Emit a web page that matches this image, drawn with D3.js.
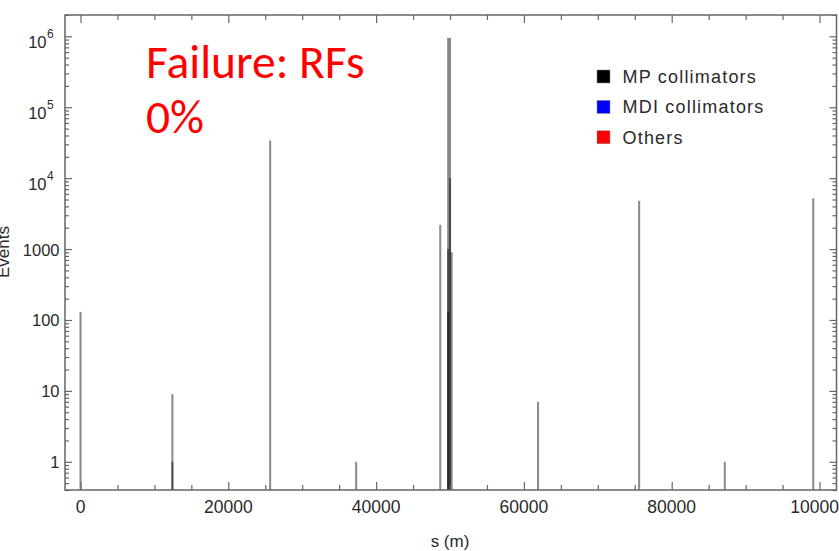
<!DOCTYPE html>
<html>
<head>
<meta charset="utf-8">
<script src="https://cdn.jsdelivr.net/npm/d3@7"></script>
<style>
  body { margin: 0; background: #fff; }
  svg { display: block; }
</style>
</head>
<body>
<script>
// Loss location along the ring (m) and number of events in that bin
const lossPosition = [0, 12430, 12430, 25660, 37300, 48680, 49750, 50000, 49750, 50000, 50220, 49750, 61910, 75590, 87180, 99150];
const lossEvents   = [130, 9, 1, 34000, 1, 2200, 950000, 950000, 1000, 10000, 900, 130, 7, 4800, 1, 5200];
const binWidth = 280;

const xTickValues = [0, 20000, 40000, 60000, 80000, 100000];
const xMinorValues = d3.range(0, 100001, 5000).filter(v => v % 20000 !== 0);
const yPlainLabels = [1, 10, 100, 1000];
const yPowerExponents = [4, 5, 6];

const legendLabels = ["MP collimators", "MDI collimators", "Others"];
const legendColors = ["#000000", "#0000ff", "#ff0000"];
const titleLines = ["Failure: RFs", "0%"];

const W = 839, H = 551;
const plot = { left: 65, right: 836.5, top: 15, bottom: 490 };

const svg = d3.select("body").append("svg").attr("width", W).attr("height", H);

const x = d3.scaleLinear().domain([-2100, 102300]).range([plot.left, plot.right]);
const y = d3.scaleLog().domain([0.4, 2e6]).range([plot.bottom, plot.top]);

const axisColor = "#666";
const labelColor = "#2a2a2a";
const font = "'Liberation Sans', Arial, Helvetica, sans-serif";

// Histogram bars (translucent so overlapping bins darken)
svg.append("g").selectAll("rect")
  .data(lossPosition.map((s, i) => ({ s, v: lossEvents[i] })))
  .join("rect")
  .attr("x", d => x(d.s - binWidth / 2))
  .attr("width", d => x(d.s + binWidth / 2) - x(d.s - binWidth / 2))
  .attr("y", d => y(d.v))
  .attr("height", d => plot.bottom - y(d.v))
  .attr("fill", "#000")
  .attr("fill-opacity", 0.45);

// Minor log ticks
const yMajors = d3.range(0, 7).map(e => Math.pow(10, e));
const yMinors = [];
for (let e = -1; e <= 6; e++) {
  for (let m = 2; m <= 9; m++) {
    const v = m * Math.pow(10, e);
    if (v >= 0.4 && v <= 2e6) yMinors.push(v);
  }
}

function styleAxis(g) {
  g.select(".domain").remove();
  g.selectAll("line").attr("stroke", axisColor).attr("stroke-width", 1.2);
  g.selectAll("text").remove();
}

// Left and right axes
svg.append("g").attr("transform", `translate(${plot.left},0)`)
  .call(d3.axisLeft(y).tickValues(yMajors).tickSize(-7).tickFormat("")).call(styleAxis);
svg.append("g").attr("transform", `translate(${plot.left},0)`)
  .call(d3.axisLeft(y).tickValues(yMinors).tickSize(-4).tickFormat("")).call(styleAxis);
svg.append("g").attr("transform", `translate(${plot.right},0)`)
  .call(d3.axisRight(y).tickValues(yMajors).tickSize(-7).tickFormat("")).call(styleAxis);
svg.append("g").attr("transform", `translate(${plot.right},0)`)
  .call(d3.axisRight(y).tickValues(yMinors).tickSize(-4).tickFormat("")).call(styleAxis);

// Bottom and top axes
svg.append("g").attr("transform", `translate(0,${plot.bottom})`)
  .call(d3.axisBottom(x).tickValues(xTickValues).tickSize(-8).tickFormat("")).call(styleAxis);
svg.append("g").attr("transform", `translate(0,${plot.bottom})`)
  .call(d3.axisBottom(x).tickValues(xMinorValues).tickSize(-5).tickFormat("")).call(styleAxis);
svg.append("g").attr("transform", `translate(0,${plot.top})`)
  .call(d3.axisTop(x).tickValues(xTickValues).tickSize(-8).tickFormat("")).call(styleAxis);
svg.append("g").attr("transform", `translate(0,${plot.top})`)
  .call(d3.axisTop(x).tickValues(xMinorValues).tickSize(-5).tickFormat("")).call(styleAxis);

// Frame
svg.append("rect")
  .attr("x", plot.left).attr("y", plot.top)
  .attr("width", plot.right - plot.left).attr("height", plot.bottom - plot.top)
  .attr("fill", "none").attr("stroke", axisColor).attr("stroke-width", 1.5);

// X tick labels
svg.append("g").selectAll("text")
  .data(xTickValues).join("text")
  .attr("x", d => x(d)).attr("y", 513)
  .attr("text-anchor", "middle")
  .attr("font-family", font).attr("font-size", 17.5).attr("fill", labelColor)
  .text(d => d);

// Y tick labels: plain numbers
svg.append("g").selectAll("text")
  .data(yPlainLabels).join("text")
  .attr("x", 59.5).attr("y", d => y(d) + 6.5)
  .attr("text-anchor", "end")
  .attr("font-family", font).attr("font-size", 16.5).attr("fill", labelColor)
  .text(d => d);

// Y tick labels: powers of ten
const powerLabels = svg.append("g").selectAll("g")
  .data(yPowerExponents).join("g");
powerLabels.append("text")
  .attr("x", 46.5).attr("y", d => y(Math.pow(10, d)) + 12)
  .attr("text-anchor", "end")
  .attr("font-family", font).attr("font-size", 16.5).attr("fill", labelColor)
  .text("10");
powerLabels.append("text")
  .attr("x", 47).attr("y", d => y(Math.pow(10, d)) + 2)
  .attr("text-anchor", "start")
  .attr("font-family", font).attr("font-size", 12).attr("fill", labelColor)
  .text(d => d);

// Axis titles
svg.append("text")
  .attr("x", 450).attr("y", 547)
  .attr("text-anchor", "middle")
  .attr("font-family", font).attr("font-size", 17).attr("fill", labelColor)
  .text("s (m)");
svg.append("text")
  .attr("transform", "translate(8.5,252) rotate(-90)")
  .attr("text-anchor", "middle")
  .attr("font-family", font).attr("font-size", 17).attr("fill", labelColor)
  .text("Events");

// Legend
const legend = svg.append("g").selectAll("g")
  .data(legendLabels).join("g")
  .attr("transform", (d, i) => `translate(597,${76.5 + i * 30.4})`);
legend.append("rect")
  .attr("x", 0).attr("y", -6.5).attr("width", 13).attr("height", 13)
  .attr("fill", (d, i) => legendColors[i])
  .attr("stroke", "#888").attr("stroke-width", 0.5);
legend.append("text")
  .attr("x", 25.5).attr("y", 6.5)
  .attr("font-family", font).attr("font-size", 18).attr("letter-spacing", 1.2)
  .attr("fill", labelColor)
  .text(d => d);

// Scenario annotation
svg.append("g").selectAll("text")
  .data(titleLines).join("text")
  .attr("x", 146).attr("y", (d, i) => 78 + i * 55)
  .attr("font-family", "Carlito, Calibri, Lato, sans-serif")
  .attr("font-size", 47.5).attr("fill", "#ff0000")
  .text(d => d);
</script>
</body>
</html>
